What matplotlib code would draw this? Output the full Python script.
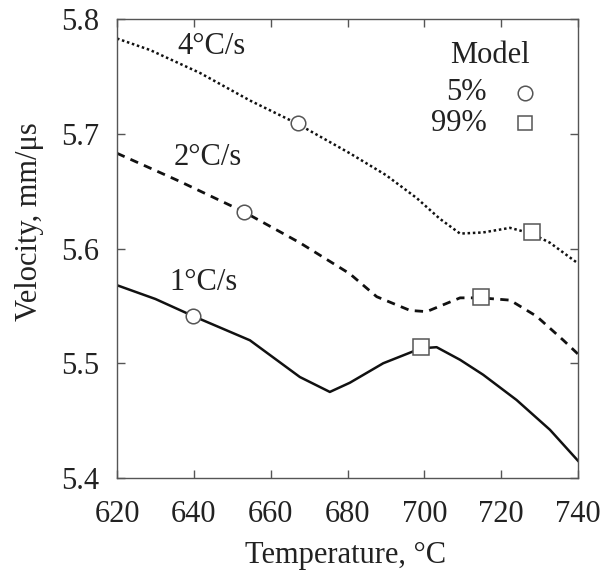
import matplotlib
matplotlib.use('Agg')
import matplotlib.pyplot as plt

plt.rcParams['font.family'] = ['Liberation Serif', 'DejaVu Serif']
plt.rcParams['font.size'] = 22

# 4°C/s 曲线（点线）
t4 = [620, 628.6, 641.6, 654.6, 666.8, 680.6, 690, 698, 704, 709.3, 715.3, 722.3, 727.9, 732.7, 740]
v4 = [5.783, 5.773, 5.753, 5.729, 5.709, 5.683, 5.664, 5.644, 5.626, 5.613, 5.614, 5.618, 5.613, 5.605, 5.587]

# 2°C/s 曲线（虚线）
t2 = [620, 636, 653, 667.6, 680.6, 687.6, 696.3, 700.6, 709.3, 714.7, 722.3, 729.2, 736.2, 740]
v2 = [5.683, 5.659, 5.632, 5.605, 5.578, 5.558, 5.546, 5.545, 5.557, 5.557, 5.555, 5.541, 5.520, 5.508]

# 1°C/s 曲线（实线）
t1 = [620, 630, 639.9, 654.6, 667.6, 675.4, 680.6, 689.3, 699.1, 703.2, 709.3, 715.3, 724, 732.7, 740]
v1 = [5.568, 5.556, 5.541, 5.520, 5.488, 5.475, 5.483, 5.500, 5.513, 5.514, 5.503, 5.490, 5.468, 5.442, 5.415]

# 模型点：5% 圆圈，99% 方块
t5 = [667.1, 653.0, 639.9]
v5 = [5.709, 5.632, 5.541]
t99 = [727.9, 714.7, 699.1]
v99 = [5.614, 5.558, 5.514]

rates = ['4°C/s', '2°C/s', '1°C/s']
label_t = [644.5, 643.6, 642.5]
label_v = [5.776, 5.679, 5.570]

fig = plt.figure(figsize=(6.05, 5.73), dpi=100)
ax = fig.add_axes([0.1934, 0.1658, 0.762, 0.801])

ax.plot(t4, v4, color='#111', lw=1.8, linestyle=(0, (1, 1.1)))
ax.plot(t2, v2, color='#111', lw=2.0, linestyle=(0, (3, 2.3)))
ax.plot(t1, v1, color='#111', lw=1.8)

mk = dict(ls='none', mfc='white', mec='#555', mew=1.1, zorder=5)
ax.plot(t5, v5, marker='o', ms=10.5, **mk)
ax.plot(t99, v99, marker='s', ms=11, **mk)

for s, x, y in zip(rates, label_t, label_v):
    ax.text(x, y, s, ha='center', va='center', color='#222')

# 图例（手动画）
ax.text(0.809, 0.9216, 'Model', transform=ax.transAxes, ha='center', va='center', color='#222')
ax.text(0.802, 0.839, '5%', transform=ax.transAxes, ha='right', va='center', color='#222')
ax.text(0.802, 0.773, '99%', transform=ax.transAxes, ha='right', va='center', color='#222')
ax.plot([0.885], [0.839], marker='o', ms=10.5, transform=ax.transAxes, clip_on=False, **mk)
ax.plot([0.885], [0.773], marker='s', ms=10.5, transform=ax.transAxes, clip_on=False, **mk)

ax.set_xlim(620, 740)
ax.set_ylim(5.4, 5.8)
ax.set_xticks(range(620, 741, 20))
ax.set_yticks([5.4, 5.5, 5.6, 5.7, 5.8])
ax.tick_params(direction='in', top=True, right=True, length=6, width=1,
               colors='#555', labelcolor='#222')
ax.tick_params(axis='x', pad=16)
ax.tick_params(axis='y', pad=13)
for sp in ax.spines.values():
    sp.set_color('#555')
    sp.set_linewidth(1)

ax.set_xlabel('Temperature, °C', color='#222')
ax.set_ylabel('Velocity, mm/μs', color='#222')
ax.xaxis.set_label_coords(0.496, -0.138)
ax.yaxis.set_label_coords(-0.158, 0.558)

fig.savefig('out.png', dpi=100)
